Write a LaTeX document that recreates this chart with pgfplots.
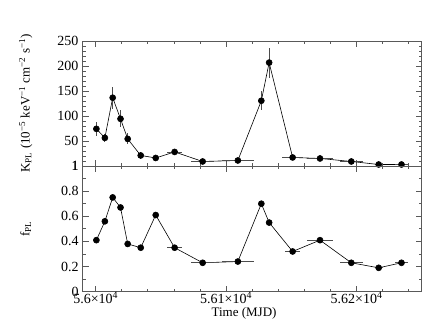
\documentclass[border=0pt]{standalone}
\usepackage{fontspec}
\setmainfont{Liberation Serif}
\usepackage{pgfplots}
\pgfplotsset{compat=1.18}

% columns: time, value, x error, y error
\pgfplotstableread{
x y ex ey
56000.5 75 0 14
56007 57 0 8
56013 137 0 22
56019 95 0 17
56024.5 55 0 11
56034.5 22 0 7
56046 17 0 6
56060.5 29 6 5
56082 10 9 3
56109 12 12 3
56127 131 0 19
56133 207 0 30
56151 18 8 3
56172 16 10 3
56196 10 9 3
56217 4 3 2
56234.5 4 5 2
}\kpl

\pgfplotstableread{
x y ex
56000.5 0.41 0
56007 0.56 0
56013 0.75 0
56019 0.67 0
56024.5 0.38 0
56034.5 0.35 0
56046 0.61 0
56060.5 0.35 6
56082 0.23 9
56109 0.24 12
56127 0.70 0
56133 0.55 0
56151 0.32 6
56172 0.41 10
56196 0.23 9
56217 0.19 3
56234.5 0.23 5
}\fpl

\begin{document}
\fontsize{12}{14}\selectfont
\begin{tikzpicture}
\useasboundingbox (0pt,0pt) rectangle (423pt,327pt);
\pgfplotsset{
  lc/.style={
    scale only axis, width=339pt,
    xmin=55990, xmax=56250,
    scaled x ticks=false,
    axis line style={black!65, line width=0.8pt},
    every tick/.style={black!65, line width=0.8pt},
    major tick length=6pt, minor tick length=3pt,
    tick align=inside,
    xtick={56000,56100,56200},
    minor xtick={56020,56040,56060,56080,56120,56140,56160,56180,56220,56240},
    tick label style={font=\rmfamily\fontsize{14}{15}\selectfont},
    ylabel style={at={(axis description cs:-0.168,0.5)}, anchor=center, font=\fontsize{13}{15}\selectfont},
    error bars/error bar style={black!70, line width=0.8pt},
    error bars/error mark=none,
  },
  dat/.style={black, line width=0.6pt, mark=*, mark size=3pt,
    mark options={fill=black, draw=black}},
}
\begin{axis}[lc, at={(82.7pt,161pt)}, anchor=south west, height=125pt,
  ymin=1, ymax=250,
  ytick={1,50,100,150,200,250},
  yticklabels={\mbox{1},\mbox{50},\mbox{100},\mbox{150},\mbox{200},\mbox{250}},
  minor ytick={10,20,...,240},
  xticklabels={},
  ylabel={K\textsubscript{PL} (10\textsuperscript{−5} keV\textsuperscript{−1} cm\textsuperscript{−2} s\textsuperscript{−1})}]
\addplot[dat, error bars/.cd, x dir=both, x explicit, y dir=both, y explicit]
  table[x=x, y=y, x error=ex, y error=ey] {\kpl};
\end{axis}
\begin{axis}[lc, at={(82.7pt,35.3pt)}, anchor=south west, height=125.7pt,
  ymin=0, ymax=1,
  ytick={0,0.2,0.4,0.6,0.8,1},
  minor ytick={0.1,0.3,0.5,0.7,0.9},
  yticklabels={\mbox{0},\mbox{0.2},\mbox{0.4},\mbox{0.6},\mbox{0.8},\mbox{1}},
  xticklabels={\mbox{5.6×10\textsuperscript{4}},\mbox{5.61×10\textsuperscript{4}},\mbox{5.62×10\textsuperscript{4}}},
  xticklabel style={yshift=4pt},
  xlabel={Time (MJD)},
  xlabel style={at={(axis description cs:0.476,-0.172)}, anchor=center, font=\fontsize{13}{15}\selectfont},
  ylabel={f\textsubscript{PL}}]
\addplot[dat, error bars/.cd, x dir=both, x explicit]
  table[x=x, y=y, x error=ex] {\fpl};
\end{axis}
\end{tikzpicture}
\end{document}
